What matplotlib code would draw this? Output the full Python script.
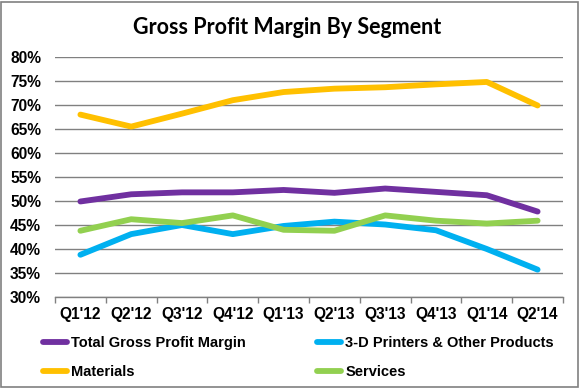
import matplotlib
matplotlib.use("Agg")
import matplotlib.pyplot as plt
from matplotlib.patches import Rectangle
import numpy as np

quarters = ["Q1'12", "Q2'12", "Q3'12", "Q4'12", "Q1'13", "Q2'13", "Q3'13", "Q4'13", "Q1'14", "Q2'14"]
total = [49.9, 51.4, 51.8, 51.8, 52.3, 51.7, 52.6, 51.9, 51.2, 47.8]
printers = [38.8, 43.1, 45.0, 43.1, 44.8, 45.7, 45.1, 43.9, 40.0, 35.7]
materials = [68.0, 65.5, 68.2, 71.0, 72.7, 73.4, 73.7, 74.3, 74.8, 69.9]
services = [43.8, 46.2, 45.4, 47.0, 44.0, 43.8, 47.0, 45.9, 45.3, 45.9]
yticks = [30, 35, 40, 45, 50, 55, 60, 65, 70, 75, 80]

fig = plt.figure(figsize=(5.8, 3.88), dpi=100)
ax = fig.add_axes([55/580, 1-297/388, 508/580, 240/388])

x = np.arange(len(quarters))
lw = 4.2
kw = dict(lw=lw, solid_capstyle="round", solid_joinstyle="round", zorder=3)
h_total, = ax.plot(x, total, color="#7030A0", label="Total Gross Profit Margin", **kw)
h_print, = ax.plot(x, printers, color="#00B0F0", label="3-D Printers & Other Products", **kw)
h_mat, = ax.plot(x, materials, color="#FFC000", label="Materials", **kw)
h_serv, = ax.plot(x, services, color="#92D050", label="Services", **kw)

ax.set_xlim(-0.5, len(quarters) - 0.5)
ax.set_ylim(30, 80)
ax.set_yticks(yticks)
ax.set_yticklabels([f"{t}%" for t in yticks], fontfamily="Liberation Sans", fontweight="bold", fontsize=11.2)
ax.set_xticks(x)
ax.set_xticklabels(quarters, fontfamily="Liberation Sans", fontweight="bold", fontsize=11.2)
ax.set_xticks(np.arange(len(quarters) + 1) - 0.5, minor=True)
ax.tick_params(axis="x", which="major", length=0, pad=7)
ax.tick_params(axis="x", which="minor", length=4, color="#808080", width=1)
ax.tick_params(axis="y", length=0, pad=10)
ax.grid(axis="y", color="#808080", lw=1)
ax.set_axisbelow(True)
for s in ["top", "right", "left"]:
    ax.spines[s].set_visible(False)
ax.spines["bottom"].set_color("#808080")
ax.spines["bottom"].set_linewidth(1)

fig.text(133/580, 1-34/388, "Gross Profit Margin By Segment", ha="left", va="baseline",
         fontfamily="Lato", fontweight="bold", fontsize=15.5)

leg = fig.legend(handles=[h_total, h_mat, h_print, h_serv],
                 loc="upper left", bbox_to_anchor=(43/580, 1-336/388), ncol=2, frameon=False,
                 prop={"family": "Liberation Sans", "weight": "bold", "size": 10.5},
                 borderpad=0, borderaxespad=0,
                 handlelength=1.65, handletextpad=0.27, columnspacing=4.9, labelspacing=1.05)

fig.add_artist(Rectangle((1/580, 1/388), 577/580, 385/388, transform=fig.transFigure,
                         fill=False, edgecolor="#808080", lw=1.2))

fig.savefig("out.png", dpi=100)
